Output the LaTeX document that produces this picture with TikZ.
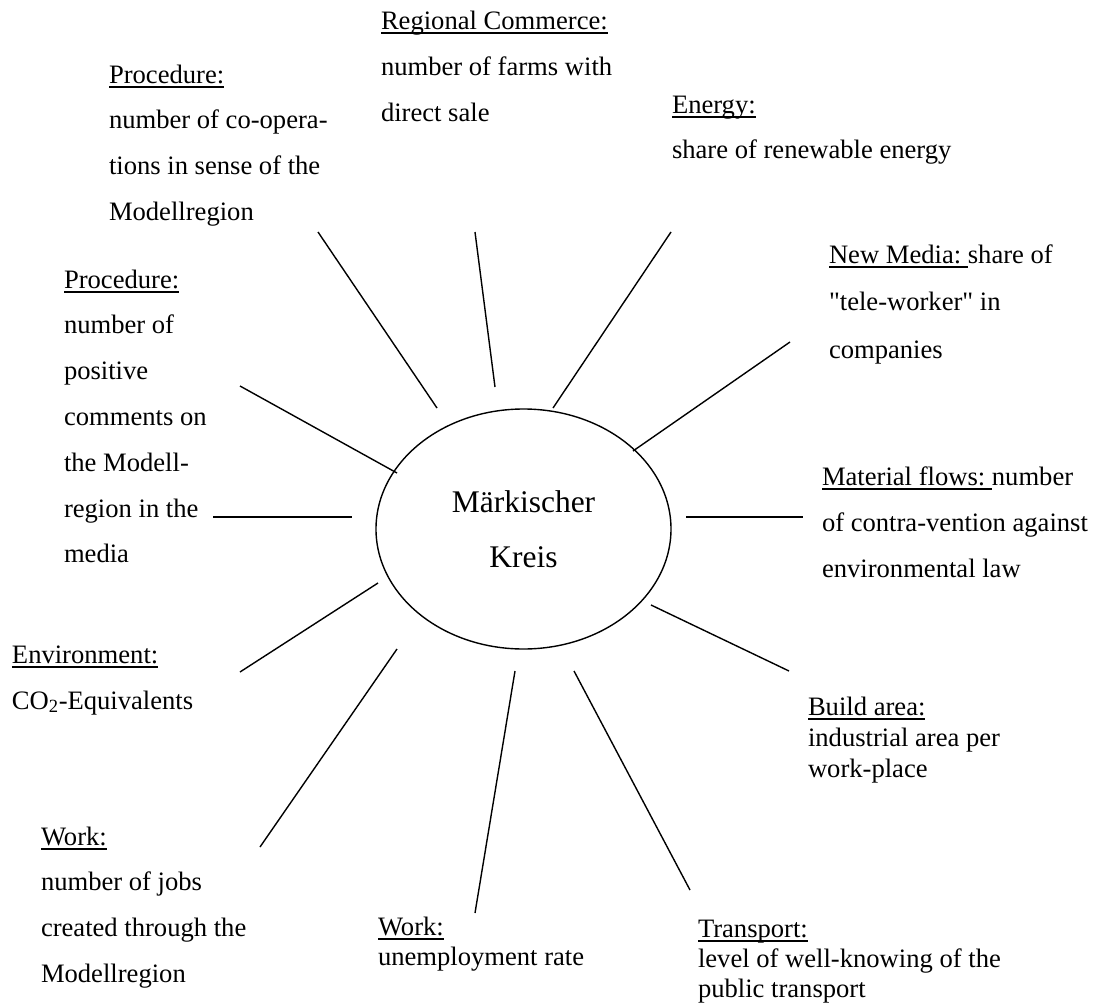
\documentclass[tikz,border=0pt]{standalone}
\usepackage{fontspec}
\setmainfont{Liberation Serif}[Ligatures=TeXOff]
\usetikzlibrary{shapes.geometric}
\newsavebox\ulbox
\newcommand\ulx[1]{\sbox\ulbox{#1}\rlap{\rule[-4.7pt]{\wd\ulbox}{1.4pt}}\usebox\ulbox}
\newcommand\stk[2]{\vtop{\baselineskip=#1\lineskiplimit=-1000pt\lineskip=0pt #2}}
\begin{document}
\begin{tikzpicture}[x=1pt,y=-1pt,
  lbl/.style={anchor=base west, inner sep=0pt, outer sep=0pt, font=\fontsize{26.6}{31}\selectfont},
  conn/.style={line width=1.4pt, line cap=butt},
  hub/.style={draw, ellipse, line width=1.4pt, minimum width=295pt, minimum height=240pt,
    inner sep=0pt, outer sep=0pt, align=center, font=\fontsize{31.5}{55}\selectfont}]
\useasboundingbox (0,0) rectangle (1096,1004);

% centre
\node[hub] (mk) at (523.5,529) {Märkischer\\Kreis};

% labels
\node[lbl] (rc) at (381,29) {\stk{46.3pt}{\hbox{\ulx{Regional Commerce:}}\hbox{number of farms with}\hbox{direct sale}}};
\node[lbl] (p1) at (109,83) {\stk{45.7pt}{\hbox{\ulx{Procedure:}}\hbox{number of co-opera-}\hbox{tions in sense of the}\hbox{Modellregion}}};
\node[lbl] (en) at (672,113) {\stk{45pt}{\hbox{\ulx{Energy:}}\hbox{share of renewable energy}}};
\node[lbl] (nm) at (829,263) {\stk{47.5pt}{\hbox{\ulx{New Media:\ }share of}\hbox{"tele-worker" in}\hbox{companies}}};
\node[lbl] (p2) at (64,288) {\stk{45.8pt}{\hbox{\ulx{Procedure:}}\hbox{number of}\hbox{positive}\hbox{comments on}\hbox{the Modell-}\hbox{region in the}\hbox{media}}};
\node[lbl] (mf) at (822,485) {\stk{46pt}{\hbox{\ulx{Material flows:\ }number}\hbox{of contra-vention against}\hbox{environmental law}}};
\node[lbl] (ev) at (12,663) {\stk{46pt}{\hbox{\ulx{Environment:}}\hbox{CO\textsubscript{2}-Equivalents}}};
\node[lbl] (ba) at (808,715) {\stk{31pt}{\hbox{\ulx{Build area:}}\hbox{industrial area per}\hbox{work-place}}};
\node[lbl] (w1) at (41,845) {\stk{45.7pt}{\hbox{\ulx{Work:}}\hbox{number of jobs}\hbox{created through the}\hbox{Modellregion}}};
\node[lbl] (w2) at (378,935) {\stk{30pt}{\hbox{\ulx{Work:}}\hbox{unemployment rate}}};
\node[lbl] (tr) at (698,937) {\stk{30pt}{\hbox{\ulx{Transport:}}\hbox{level of well-knowing of the}\hbox{public transport}}};

% connector end points
\coordinate (p1o) at (318,232); \coordinate (p1i) at (437,408);
\coordinate (rco) at (475,232); \coordinate (rci) at (495,387);
\coordinate (eno) at (671,232); \coordinate (eni) at (553,408);
\coordinate (nmo) at (790,342); \coordinate (nmi) at (633,451);
\coordinate (p2o) at (240,386); \coordinate (p2i) at (397,473);
\coordinate (p3o) at (213,517); \coordinate (p3i) at (352,517);
\coordinate (mfi) at (686,517); \coordinate (mfo) at (803,517);
\coordinate (evi) at (378,583); \coordinate (evo) at (240,672);
\coordinate (bai) at (651,605); \coordinate (bao) at (789,671);
\coordinate (w1i) at (397,649); \coordinate (w1o) at (260,847);
\coordinate (w2i) at (515,671); \coordinate (w2o) at (475,913);
\coordinate (tri) at (574,671); \coordinate (tro) at (690,890);

% connectors
\draw[conn] (p1o) -- (p1i);
\draw[conn] (rco) -- (rci);
\draw[conn] (eno) -- (eni);
\draw[conn] (nmo) -- (nmi);
\draw[conn] (p2o) -- (p2i);
\draw[conn] (p3o) -- (p3i);
\draw[conn] (mfi) -- (mfo);
\draw[conn] (evi) -- (evo);
\draw[conn] (bai) -- (bao);
\draw[conn] (w1i) -- (w1o);
\draw[conn] (w2i) -- (w2o);
\draw[conn] (tri) -- (tro);
\end{tikzpicture}
\end{document}
